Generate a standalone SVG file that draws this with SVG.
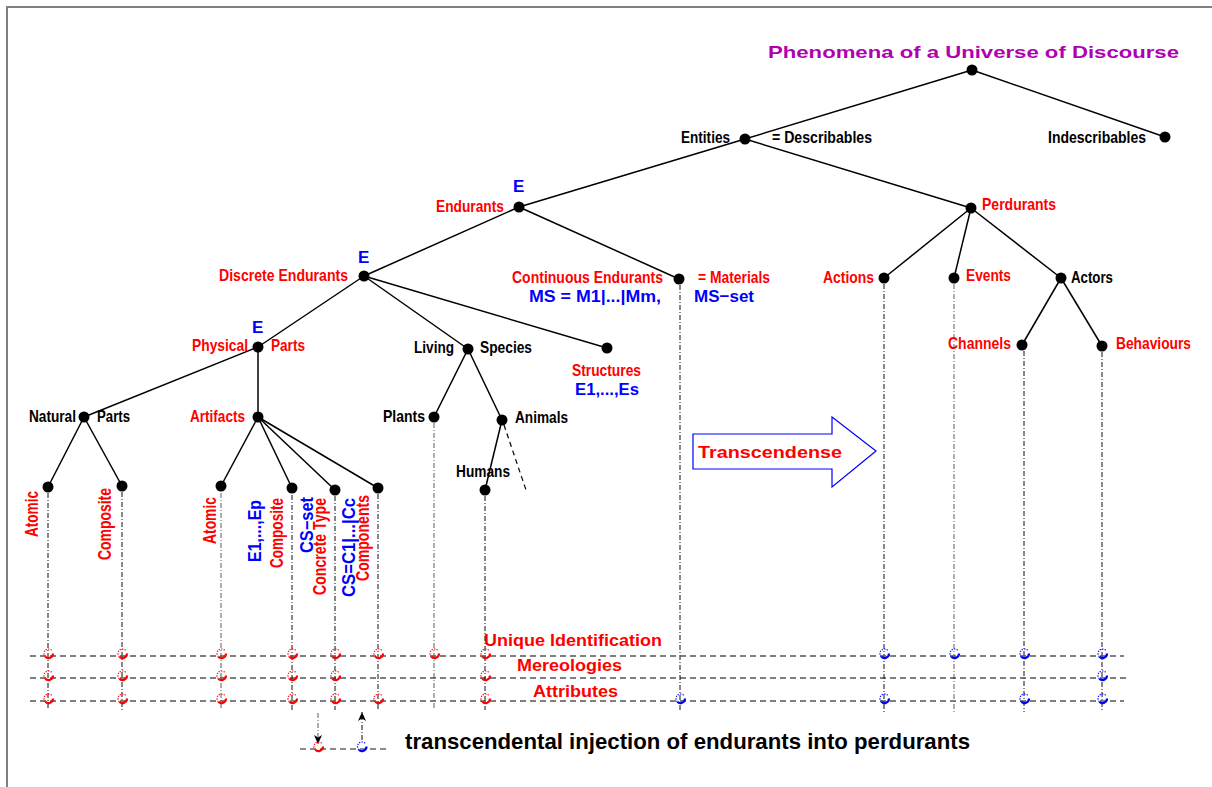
<svg xmlns="http://www.w3.org/2000/svg" xmlns:xlink="http://www.w3.org/1999/xlink" width="1212" height="787" viewBox="0 0 1212 787">
<style>
.t{font-family:"Liberation Sans Narrow","Liberation Sans",Arial,sans-serif;font-weight:bold;font-size:17px}
.v{font-size:17.5px}
.r{fill:#ff0000}.b{fill:#0000ff}.k{fill:#000}
.dot{fill:#000}
.edge{stroke:#000;stroke-width:1.5;fill:none}
.vl{stroke:#111;stroke-width:1;stroke-dasharray:5 2 1 2;fill:none}
.vg{stroke:#777;stroke-width:1.2;stroke-dasharray:5 2 1 2;fill:none}
.hl{stroke:#555;stroke-width:1.3;stroke-dasharray:6 4;fill:none}
.hk{stroke:#000;stroke-width:1.1;stroke-dasharray:6 4;fill:none}
.mr{color:#ff0000}.mb{color:#0000ff}
</style>
<defs>
<g id="mk" fill="none" stroke="currentColor">
<path d="M4.5 0 A4.5 4.5 0 0 1 -3.2 3.2" stroke-width="2.2"/>
<path d="M-3.2 3.2 A4.5 4.5 0 0 1 3.2 -3.2" stroke-width="1.2" stroke-dasharray="1.2 1.3"/>
</g>
<marker id="ah" markerUnits="userSpaceOnUse" markerWidth="10" markerHeight="10" refX="9" refY="5" orient="auto">
<path d="M0 1 L9 5 L0 9 L2.5 5 Z" fill="#000"/>
</marker>
</defs>
<rect x="0" y="0" width="1212" height="787" fill="#fff"/>
<path d="M7 787 V7 H1212" stroke="#808080" stroke-width="2" fill="none"/>

<g id="connectors">
<line class="edge" x1="972" y1="70" x2="745" y2="139"/>
<line class="edge" x1="972" y1="70" x2="1165" y2="137"/>
<line class="edge" x1="745" y1="139" x2="519" y2="207"/>
<line class="edge" x1="745" y1="139" x2="971" y2="208"/>
<line class="edge" x1="519" y1="207" x2="364" y2="276"/>
<line class="edge" x1="519" y1="207" x2="679" y2="279"/>
<line class="edge" x1="364" y1="276" x2="258" y2="347"/>
<line class="edge" x1="364" y1="276" x2="468" y2="349"/>
<line class="edge" x1="364" y1="276" x2="607" y2="348"/>
<line class="edge" x1="258" y1="347" x2="84" y2="417"/>
<line class="edge" x1="258" y1="347" x2="258" y2="417"/>
<line class="edge" x1="84" y1="417" x2="48" y2="487"/>
<line class="edge" x1="84" y1="417" x2="122" y2="486"/>
<line class="edge" x1="258" y1="417" x2="221" y2="486"/>
<line class="edge" x1="258" y1="417" x2="292" y2="488"/>
<line class="edge" x1="258" y1="417" x2="335" y2="490"/>
<line class="edge" x1="258" y1="417" x2="378" y2="488"/>
<line class="edge" x1="468" y1="349" x2="434" y2="417"/>
<line class="edge" x1="468" y1="349" x2="502" y2="420"/>
<line class="edge" x1="502" y1="420" x2="485" y2="490"/>
<line x1="504" y1="425" x2="526" y2="490" stroke="#000" stroke-width="1.2" stroke-dasharray="5 4"/>
<line class="edge" x1="971" y1="208" x2="884" y2="278"/>
<line class="edge" x1="971" y1="208" x2="954" y2="278"/>
<line class="edge" x1="971" y1="208" x2="1061" y2="278"/>
<line class="edge" x1="1061" y1="278" x2="1022" y2="345"/>
<line class="edge" x1="1061" y1="278" x2="1102" y2="346"/>
</g>

<g id="timelines">
<line class="vl" x1="48" y1="493" x2="48" y2="710"/>
<line class="vl" x1="122" y1="492" x2="122" y2="710"/>
<line class="vg" x1="221" y1="493" x2="221" y2="710"/>
<line class="vl" x1="292" y1="495" x2="292" y2="710"/>
<line class="vl" x1="335" y1="496" x2="335" y2="710"/>
<line class="vl" x1="378" y1="494" x2="378" y2="710"/>
<line class="vg" x1="434" y1="423" x2="434" y2="710"/>
<line class="vl" x1="485" y1="496" x2="485" y2="710"/>
<line class="vl" x1="680" y1="285" x2="680" y2="712"/>
<line class="vl" x1="884" y1="284" x2="884" y2="712"/>
<line class="vg" x1="954" y1="284" x2="954" y2="712"/>
<line class="vl" x1="1024" y1="351" x2="1024" y2="712"/>
<line class="vl" x1="1102" y1="352" x2="1102" y2="712"/>
<line class="hl" x1="30" y1="656" x2="1124" y2="656"/>
<line class="hk" x1="30" y1="678" x2="1130" y2="678"/>
<line class="hl" x1="30" y1="701" x2="1124" y2="701"/>
</g>

<g id="marks">
<use xlink:href="#mk" class="mr" x="48.5" y="653.5"/><use xlink:href="#mk" class="mr" x="48.5" y="675.5"/><use xlink:href="#mk" class="mr" x="48.5" y="698.5"/>
<use xlink:href="#mk" class="mr" x="122.5" y="653.5"/><use xlink:href="#mk" class="mr" x="122.5" y="675.5"/><use xlink:href="#mk" class="mr" x="122.5" y="698.5"/>
<use xlink:href="#mk" class="mr" x="221.5" y="653.5"/><use xlink:href="#mk" class="mr" x="221.5" y="675.5"/><use xlink:href="#mk" class="mr" x="221.5" y="698.5"/>
<use xlink:href="#mk" class="mr" x="292.5" y="653.5"/><use xlink:href="#mk" class="mr" x="292.5" y="675.5"/><use xlink:href="#mk" class="mr" x="292.5" y="698.5"/>
<use xlink:href="#mk" class="mr" x="335.5" y="653.5"/><use xlink:href="#mk" class="mr" x="335.5" y="675.5"/><use xlink:href="#mk" class="mr" x="335.5" y="698.5"/>
<use xlink:href="#mk" class="mr" x="378.5" y="653.5"/><use xlink:href="#mk" class="mr" x="378.5" y="698.5"/>
<use xlink:href="#mk" class="mr" x="434.5" y="653.5"/>
<use xlink:href="#mk" class="mr" x="485.5" y="653.5"/><use xlink:href="#mk" class="mr" x="485.5" y="675.5"/><use xlink:href="#mk" class="mr" x="485.5" y="698.5"/>
<use xlink:href="#mk" class="mb" x="680.5" y="698.5"/>
<use xlink:href="#mk" class="mb" x="884.5" y="653.5"/><use xlink:href="#mk" class="mb" x="884.5" y="698.5"/>
<use xlink:href="#mk" class="mb" x="954.5" y="653.5"/>
<use xlink:href="#mk" class="mb" x="1024.5" y="653.5"/><use xlink:href="#mk" class="mb" x="1024.5" y="698.5"/>
<use xlink:href="#mk" class="mb" x="1102.5" y="653.5"/><use xlink:href="#mk" class="mb" x="1102.5" y="675.5"/><use xlink:href="#mk" class="mb" x="1102.5" y="698.5"/>
</g>

<g id="aspects">
<text class="t r" x="484" y="646" font-size="21" textLength="178" lengthAdjust="spacingAndGlyphs">Unique Identification</text>
<text class="t r" x="517" y="671" font-size="21" textLength="105" lengthAdjust="spacingAndGlyphs">Mereologies</text>
<text class="t r" x="533" y="697" font-size="21" textLength="85" lengthAdjust="spacingAndGlyphs">Attributes</text>
</g>

<g id="legend">
<line x1="300" y1="749" x2="388" y2="749" stroke="#666" stroke-width="1.3" stroke-dasharray="6 4"/>
<line x1="318" y1="713" x2="318" y2="744" stroke="#777" stroke-width="1.2" stroke-dasharray="5 2 1 2" marker-end="url(#ah)"/>
<line x1="362" y1="740" x2="362" y2="712" stroke="#333" stroke-width="1.2" stroke-dasharray="5 2 1 2" marker-end="url(#ah)"/>
<use xlink:href="#mk" class="mr" x="318.5" y="746.5"/>
<use xlink:href="#mk" class="mb" x="362" y="746.5"/>
<text x="405" y="749" font-family="'Liberation Sans',Arial,sans-serif" font-weight="bold" font-size="21.5" fill="#000" textLength="565" lengthAdjust="spacingAndGlyphs">transcendental injection of endurants into perdurants</text>
</g>

<g id="transcendense">
<polygon points="693,434 832,434 832,417 876,451 832,487 832,469 693,469" fill="#fff" stroke="#0000ff" stroke-width="1.2"/>
<text class="t r" x="698" y="458" font-size="21" textLength="144" lengthAdjust="spacingAndGlyphs">Transcendense</text>
</g>

<g id="n-root">
<circle class="dot" cx="972" cy="70" r="5.5"/>
<text class="t" x="768" y="58" font-size="27" fill="#b000b0" textLength="411" lengthAdjust="spacingAndGlyphs">Phenomena of a Universe of Discourse</text>
</g>
<g id="n-entities">
<circle class="dot" cx="745" cy="139" r="5.5"/>
<text class="t k" x="681" y="143" textLength="49" lengthAdjust="spacingAndGlyphs">Entities</text>
<text class="t k" x="772" y="143" textLength="100" lengthAdjust="spacingAndGlyphs">= Describables</text>
</g>
<g id="n-indescribables">
<circle class="dot" cx="1165" cy="137" r="5.5"/>
<text class="t k" x="1048" y="143" textLength="98" lengthAdjust="spacingAndGlyphs">Indescribables</text>
</g>
<g id="n-endurants">
<circle class="dot" cx="519" cy="207" r="5.5"/>
<text class="t b" x="513" y="192" font-size="16.5">E</text>
<text class="t r" x="436" y="212" textLength="68" lengthAdjust="spacingAndGlyphs">Endurants</text>
</g>
<g id="n-perdurants">
<circle class="dot" cx="971" cy="208" r="5.5"/>
<text class="t r" x="982" y="210" textLength="74" lengthAdjust="spacingAndGlyphs">Perdurants</text>
</g>
<g id="n-continuous">
<circle class="dot" cx="679" cy="279" r="5.5"/>
<text class="t r" x="512" y="283" textLength="151" lengthAdjust="spacingAndGlyphs">Continuous Endurants</text>
<text class="t r" x="698" y="283" textLength="72" lengthAdjust="spacingAndGlyphs">= Materials</text>
<text class="t b" x="529" y="302" textLength="132" lengthAdjust="spacingAndGlyphs">MS = M1|...|Mm,</text>
<text class="t b" x="694" y="302" textLength="60" lengthAdjust="spacingAndGlyphs">MS−set</text>
</g>
<g id="n-discrete">
<circle class="dot" cx="364" cy="276" r="5.5"/>
<text class="t b" x="358" y="263" font-size="16.5">E</text>
<text class="t r" x="219" y="281" textLength="129" lengthAdjust="spacingAndGlyphs">Discrete Endurants</text>
</g>
<g id="n-actions">
<circle class="dot" cx="884" cy="278" r="5.5"/>
<text class="t r" x="823" y="283" textLength="51" lengthAdjust="spacingAndGlyphs">Actions</text>
</g>
<g id="n-events">
<circle class="dot" cx="954" cy="278" r="5.5"/>
<text class="t r" x="966" y="281" textLength="45" lengthAdjust="spacingAndGlyphs">Events</text>
</g>
<g id="n-actors">
<circle class="dot" cx="1061" cy="278" r="5.5"/>
<text class="t k" x="1071" y="283" textLength="42" lengthAdjust="spacingAndGlyphs">Actors</text>
</g>
<g id="n-channels">
<circle class="dot" cx="1022" cy="345" r="5.5"/>
<text class="t r" x="948" y="349" textLength="63" lengthAdjust="spacingAndGlyphs">Channels</text>
</g>
<g id="n-behaviours">
<circle class="dot" cx="1102" cy="346" r="5.5"/>
<text class="t r" x="1116" y="349" textLength="75" lengthAdjust="spacingAndGlyphs">Behaviours</text>
</g>
<g id="n-physical">
<circle class="dot" cx="258" cy="347" r="5.5"/>
<text class="t b" x="252" y="333" font-size="16.5">E</text>
<text class="t r" x="192" y="351" textLength="56" lengthAdjust="spacingAndGlyphs">Physical</text>
<text class="t r" x="271" y="351" textLength="34" lengthAdjust="spacingAndGlyphs">Parts</text>
</g>
<g id="n-living">
<circle class="dot" cx="468" cy="349" r="5.5"/>
<text class="t k" x="414" y="353" textLength="40" lengthAdjust="spacingAndGlyphs">Living</text>
<text class="t k" x="480" y="353" textLength="52" lengthAdjust="spacingAndGlyphs">Species</text>
</g>
<g id="n-structures">
<circle class="dot" cx="607" cy="348" r="5.5"/>
<text class="t r" x="572" y="376" font-size="15.5" textLength="69" lengthAdjust="spacingAndGlyphs">Structures</text>
<text class="t b" x="575" y="395" font-size="17.5" textLength="64" lengthAdjust="spacingAndGlyphs">E1,...,Es</text>
</g>
<g id="n-natural">
<circle class="dot" cx="84" cy="417" r="5.5"/>
<text class="t k" x="29" y="422" textLength="47" lengthAdjust="spacingAndGlyphs">Natural</text>
<text class="t k" x="97" y="422" textLength="33" lengthAdjust="spacingAndGlyphs">Parts</text>
</g>
<g id="n-artifacts">
<circle class="dot" cx="258" cy="417" r="5.5"/>
<text class="t r" x="190" y="422" textLength="55" lengthAdjust="spacingAndGlyphs">Artifacts</text>
</g>
<g id="n-plants">
<circle class="dot" cx="434" cy="417" r="5.5"/>
<text class="t k" x="383" y="422" textLength="42" lengthAdjust="spacingAndGlyphs">Plants</text>
</g>
<g id="n-animals">
<circle class="dot" cx="502" cy="420" r="5.5"/>
<text class="t k" x="515" y="423" textLength="53" lengthAdjust="spacingAndGlyphs">Animals</text>
</g>
<g id="n-humans">
<circle class="dot" cx="485" cy="490" r="5.5"/>
<text class="t k" x="456" y="477" textLength="54" lengthAdjust="spacingAndGlyphs">Humans</text>
</g>
<g id="n-nat-atomic">
<circle class="dot" cx="48" cy="487" r="5.5"/>
<text class="t v r" transform="translate(38,537) rotate(-90)" textLength="46" lengthAdjust="spacingAndGlyphs">Atomic</text>
</g>
<g id="n-nat-composite">
<circle class="dot" cx="122" cy="486" r="5.5"/>
<text class="t v r" transform="translate(111,560) rotate(-90)" textLength="72" lengthAdjust="spacingAndGlyphs">Composite</text>
</g>
<g id="n-art-atomic">
<circle class="dot" cx="221" cy="486" r="5.5"/>
<text class="t v r" transform="translate(216,544) rotate(-90)" textLength="47" lengthAdjust="spacingAndGlyphs">Atomic</text>
</g>
<g id="n-art-composite">
<circle class="dot" cx="292" cy="488" r="5.5"/>
<text class="t v b" transform="translate(261,562) rotate(-90)" textLength="62" lengthAdjust="spacingAndGlyphs">E1,...,Ep</text>
<text class="t v r" transform="translate(283,568) rotate(-90)" textLength="70" lengthAdjust="spacingAndGlyphs">Composite</text>
</g>
<g id="n-concrete-type">
<circle class="dot" cx="335" cy="490" r="5.5"/>
<text class="t v b" transform="translate(313,553) rotate(-90)" textLength="56" lengthAdjust="spacingAndGlyphs">CS−set</text>
<text class="t v r" transform="translate(326,595) rotate(-90)" textLength="97" lengthAdjust="spacingAndGlyphs">Concrete Type</text>
</g>
<g id="n-components">
<circle class="dot" cx="378" cy="488" r="5.5"/>
<text class="t v b" transform="translate(355,597) rotate(-90)" textLength="99" lengthAdjust="spacingAndGlyphs">CS=C1|...|Cc</text>
<text class="t v r" transform="translate(369,581) rotate(-90)" textLength="86" lengthAdjust="spacingAndGlyphs">Components</text>
</g>
</svg>
